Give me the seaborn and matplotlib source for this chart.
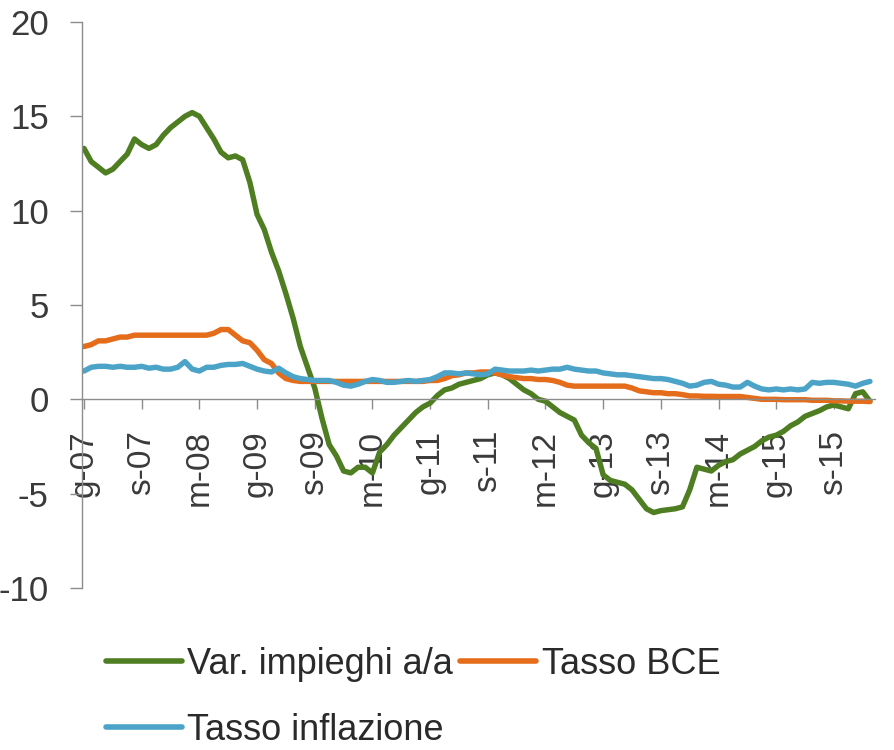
import numpy as np
import pandas as pd
import matplotlib
matplotlib.use('Agg')
import matplotlib.pyplot as plt
import seaborn as sns

# Dati mensili gen-07 ... feb-16
impieghi = [13.3, 12.6, 12.3, 12.0, 12.2, 12.6, 13.0, 13.8, 13.5, 13.3,
            13.5, 14.0, 14.4, 14.7, 15.0, 15.2, 15.0, 14.4, 13.8, 13.1,
            12.8, 12.9, 12.7, 11.5, 9.8, 9.0, 7.8, 6.8, 5.6, 4.3,
            2.8, 1.7, 0.6, -1.0, -2.4, -3.0, -3.8, -3.9, -3.6, -3.6,
            -3.9, -2.8, -2.4, -1.9, -1.5, -1.1, -0.7, -0.4, -0.2, 0.2,
            0.5, 0.6, 0.8, 0.9, 1.0, 1.1, 1.3, 1.4, 1.3, 1.1,
            0.8, 0.5, 0.3, 0.0, -0.1, -0.4, -0.7, -0.9, -1.1, -1.9,
            -2.3, -2.6, -4.0, -4.3, -4.4, -4.5, -4.8, -5.3, -5.8, -6.0,
            -5.9, -5.85, -5.8, -5.7, -4.8, -3.6, -3.7, -3.8, -3.5, -3.3,
            -3.2, -2.9, -2.7, -2.5, -2.2, -2.0, -1.9, -1.7, -1.4, -1.2,
            -0.9, -0.75, -0.6, -0.4, -0.3, -0.4, -0.5, 0.3, 0.4, -0.1]

tasso_bce = [2.8, 2.9, 3.1, 3.1, 3.2, 3.3, 3.3, 3.4, 3.4, 3.4,
             3.4, 3.4, 3.4, 3.4, 3.4, 3.4, 3.4, 3.4, 3.5, 3.7,
             3.7, 3.4, 3.1, 3.0, 2.6, 2.1, 1.9, 1.4, 1.1, 1.0,
             0.95, 0.95, 0.95, 0.95, 0.95, 0.95, 0.95, 0.95, 0.95, 0.95,
             0.95, 0.95, 0.95, 0.95, 0.95, 0.95, 0.95, 0.95, 1.0, 1.0,
             1.1, 1.25, 1.3, 1.4, 1.4, 1.45, 1.45, 1.4, 1.3, 1.2,
             1.15, 1.1, 1.1, 1.05, 1.05, 1.0, 0.9, 0.75, 0.7, 0.7,
             0.7, 0.7, 0.7, 0.7, 0.7, 0.7, 0.6, 0.45, 0.4, 0.35,
             0.35, 0.3, 0.3, 0.25, 0.18, 0.18, 0.16, 0.16, 0.15, 0.15,
             0.15, 0.15, 0.1, 0.05, 0.0, 0.0, 0.0, -0.02, -0.02, -0.02,
             -0.02, -0.05, -0.05, -0.05, -0.08, -0.08, -0.1, -0.1, -0.1, -0.12]

inflazione = [1.5, 1.7, 1.75, 1.75, 1.7, 1.75, 1.7, 1.7, 1.75, 1.65,
              1.7, 1.6, 1.6, 1.7, 2.0, 1.6, 1.5, 1.7, 1.7, 1.8,
              1.85, 1.85, 1.9, 1.75, 1.6, 1.5, 1.45, 1.65, 1.4, 1.2,
              1.1, 1.05, 1.0, 1.0, 1.0, 0.9, 0.75, 0.7, 0.8, 0.95,
              1.05, 1.0, 0.9, 0.9, 0.95, 1.0, 0.95, 1.0, 1.05, 1.2,
              1.4, 1.4, 1.35, 1.4, 1.35, 1.3, 1.35, 1.6, 1.55, 1.5,
              1.5, 1.5, 1.55, 1.5, 1.55, 1.6, 1.6, 1.7, 1.6, 1.55,
              1.5, 1.5, 1.4, 1.35, 1.3, 1.3, 1.25, 1.2, 1.15, 1.1,
              1.1, 1.05, 0.95, 0.85, 0.7, 0.75, 0.9, 0.95, 0.8, 0.75,
              0.65, 0.65, 0.9, 0.7, 0.55, 0.5, 0.55, 0.5, 0.55, 0.5,
              0.55, 0.9, 0.85, 0.9, 0.9, 0.85, 0.8, 0.7, 0.85, 0.95]

etichette_x = ['g-07', 's-07', 'm-08', 'g-09', 's-09', 'm-10', 'g-11',
               's-11', 'm-12', 'g-13', 's-13', 'm-14', 'g-15', 's-15']

serie = ['Var. impieghi a/a', 'Tasso BCE', 'Tasso inflazione']
colori = ['#4E7D22', '#E46C1A', '#4BA3C8']

n = len(impieghi)
df = pd.DataFrame({
    'mese': list(range(n)) * 3,
    'valore': impieghi + tasso_bce + inflazione,
    'serie': [serie[0]] * n + [serie[1]] * n + [serie[2]] * n,
})

sns.set_style('white')
plt.rcParams['font.family'] = ['Liberation Sans', 'DejaVu Sans']
plt.rcParams['axes.unicode_minus'] = False

fig = plt.figure(figsize=(8.95, 7.5), dpi=100)
ax = fig.add_axes([82 / 895, 1 - 588 / 750, (875 - 82) / 895, (588 - 22) / 750])

sns.lineplot(data=df, x='mese', y='valore', hue='serie', hue_order=serie,
             palette=colori, linewidth=3.9, ax=ax, legend=False)

ax.set_xlim(-0.28, 109.7)
ax.set_ylim(-10, 20)
ax.set_yticks(range(-10, 21, 5))
ax.set_xticks(range(0, n, 8))
ax.set_xticklabels(etichette_x)
ax.set_xlabel('')
ax.set_ylabel('')

for s in ['top', 'right']:
    ax.spines[s].set_visible(False)
ax.spines['bottom'].set_position(('data', 0))
for s in ['bottom', 'left']:
    ax.spines[s].set_color('#8c8c8c')
    ax.spines[s].set_linewidth(1)

ax.tick_params(axis='y', direction='out', length=9, width=1, color='#8c8c8c',
               pad=15, labelsize=25, labelcolor='#3a3a3a', left=True)
ax.tick_params(axis='x', direction='out', length=7, width=1, color='#8c8c8c',
               pad=15, labelsize=24, labelcolor='#3a3a3a', bottom=True,
               labelrotation=90)

handles = [plt.Line2D([], [], color=c, linewidth=4) for c in colori]
# ordine per righe: impieghi, BCE / inflazione
ordine = [0, 2, 1]
leg = ax.legend([handles[i] for i in ordine], [serie[i] for i in ordine],
                ncol=2, frameon=False, loc='upper left',
                bbox_to_anchor=(106 / 895, 1 - 647 / 750),
                bbox_transform=fig.transFigure,
                borderaxespad=0, borderpad=0, handlelength=2.1,
                handletextpad=0.15, columnspacing=0.2, labelspacing=0.85,
                prop={'size': 26})
for t in leg.get_texts():
    t.set_color('#2a2a2a')

fig.savefig('out.png', dpi=100)
